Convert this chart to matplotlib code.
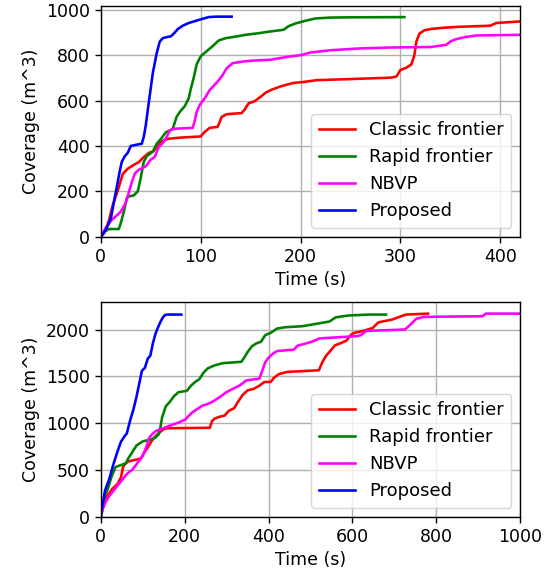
import numpy as np
import matplotlib
matplotlib.use("Agg")
import matplotlib.pyplot as plt

# top run (small map)
t_red1 = [0, 4, 8, 12, 17, 22, 27, 32, 38, 43, 48, 53, 58, 63, 68, 80, 100, 104, 109, 117, 121, 126, 141, 144, 148, 154, 161, 165, 171, 179, 186, 193, 203, 216, 250, 290, 296, 300, 306, 311, 314, 316, 319, 324, 330, 340, 357, 390, 396, 420]
v_red1 = [0, 20, 70, 140, 204, 277, 300, 314, 329, 351, 369, 378, 410, 425, 432, 437, 442, 462, 480, 484, 528, 540, 545, 560, 588, 597, 620, 635, 648, 661, 670, 678, 682, 690, 695, 701, 706, 735, 745, 760, 800, 860, 895, 910, 915, 920, 925, 930, 942, 949]

t_green1 = [0, 3, 8, 18, 20, 23, 26, 28, 33, 37, 40, 43, 46, 52, 56, 60, 65, 72, 76, 80, 84, 88, 90, 93, 96, 100, 106, 112, 118, 125, 135, 145, 158, 170, 183, 188, 195, 205, 215, 230, 250, 304]
v_green1 = [0, 20, 34, 34, 60, 110, 170, 178, 182, 200, 260, 330, 355, 375, 410, 430, 460, 475, 530, 555, 575, 610, 650, 700, 760, 795, 818, 840, 865, 875, 882, 890, 897, 905, 912, 928, 940, 952, 962, 966, 967, 968]

t_mag1 = [0, 5, 10, 15, 20, 25, 28, 31, 34, 38, 45, 50, 54, 58, 63, 66, 69, 74, 92, 94, 96, 99, 104, 109, 116, 121, 126, 132, 142, 151, 170, 190, 200, 210, 230, 260, 290, 330, 346, 350, 355, 365, 376, 420]
v_mag1 = [0, 40, 70, 90, 110, 150, 195, 240, 278, 295, 310, 340, 352, 395, 418, 440, 469, 476, 480, 510, 550, 580, 610, 646, 679, 706, 742, 765, 772, 776, 780, 795, 800, 812, 822, 830, 834, 836, 846, 860, 870, 880, 887, 890]

t_blue1 = [0, 5, 10, 13, 16, 19, 21, 24, 27, 30, 35, 41, 43, 45, 48, 52, 56, 59, 62, 66, 70, 73, 77, 82, 88, 94, 100, 108, 115, 131]
v_blue1 = [0, 30, 80, 150, 220, 290, 330, 355, 370, 400, 405, 410, 440, 490, 590, 720, 810, 860, 875, 880, 883, 895, 915, 930, 942, 950, 958, 968, 970, 970]

# bottom run (large map)
t_red2 = [0, 8, 15, 28, 40, 48, 53, 57, 65, 75, 95, 103, 112, 120, 130, 140, 150, 158, 260, 265, 272, 285, 295, 305, 318, 326, 338, 350, 365, 378, 390, 405, 413, 425, 445, 520, 528, 537, 545, 558, 572, 585, 598, 605, 625, 648, 662, 695, 716, 728, 780]
v_red2 = [0, 150, 220, 300, 350, 420, 530, 560, 590, 600, 620, 680, 740, 800, 860, 900, 935, 945, 950, 1020, 1050, 1070, 1080, 1130, 1160, 1220, 1300, 1350, 1367, 1400, 1439, 1440, 1485, 1525, 1547, 1565, 1650, 1720, 1760, 1830, 1855, 1880, 1950, 1965, 1985, 2016, 2077, 2107, 2142, 2160, 2170]

t_green2 = [0, 5, 10, 17, 25, 35, 50, 60, 65, 75, 85, 100, 120, 130, 138, 142, 146, 155, 165, 175, 185, 205, 215, 225, 235, 245, 255, 270, 290, 335, 342, 350, 360, 370, 382, 392, 405, 420, 440, 480, 525, 545, 560, 590, 640, 680]
v_green2 = [0, 150, 230, 300, 420, 530, 555, 570, 620, 690, 760, 805, 825, 845, 880, 950, 1060, 1180, 1230, 1290, 1330, 1345, 1400, 1440, 1470, 1540, 1585, 1615, 1640, 1655, 1700, 1760, 1820, 1850, 1870, 1940, 1965, 2010, 2025, 2035, 2070, 2085, 2130, 2150, 2160, 2160]

t_mag2 = [0, 5, 12, 20, 28, 36, 44, 52, 60, 68, 75, 85, 95, 100, 108, 115, 122, 131, 143, 163, 185, 202, 210, 218, 230, 242, 255, 267, 283, 299, 315, 331, 347, 378, 385, 392, 400, 410, 420, 460, 470, 480, 505, 521, 612, 620, 632, 725, 738, 752, 770, 910, 918, 1000]
v_mag2 = [0, 90, 160, 220, 265, 310, 356, 400, 446, 480, 500, 560, 620, 650, 740, 840, 880, 915, 935, 970, 1005, 1040, 1080, 1114, 1150, 1186, 1204, 1230, 1276, 1330, 1367, 1402, 1457, 1475, 1560, 1650, 1700, 1740, 1770, 1785, 1830, 1840, 1872, 1905, 1930, 1940, 1985, 2000, 2052, 2114, 2135, 2142, 2170, 2170]

t_blue2 = [0, 5, 10, 20, 30, 40, 48, 55, 62, 70, 78, 85, 92, 98, 105, 112, 118, 124, 130, 136, 142, 148, 153, 158, 192]
v_blue2 = [0, 150, 280, 400, 560, 700, 800, 850, 890, 1030, 1150, 1280, 1430, 1560, 1590, 1690, 1720, 1850, 1950, 2020, 2080, 2130, 2155, 2160, 2160]

labels = ["Classic frontier", "Rapid frontier", "NBVP", "Proposed"]
colors = ["r", "g", "magenta", "b"]

s = 1.25  # everything drawn a bit larger than default
plt.rcParams["font.size"] = 12.5
plt.rcParams["axes.linewidth"] = 0.8 * s
plt.rcParams["grid.linewidth"] = 0.8 * s
plt.rcParams["xtick.major.size"] = 3.5 * s
plt.rcParams["ytick.major.size"] = 3.5 * s
plt.rcParams["xtick.major.width"] = 0.8 * s
plt.rcParams["ytick.major.width"] = 0.8 * s
plt.rcParams["lines.linewidth"] = 1.5 * s

fig = plt.figure(figsize=(5.57, 5.76), dpi=100)
ax1 = fig.add_axes([0.181, 0.589, 0.753, 0.401])
ax2 = fig.add_axes([0.181, 0.103, 0.753, 0.372])

runs1 = [(t_red1, v_red1), (t_green1, v_green1), (t_mag1, v_mag1), (t_blue1, v_blue1)]
runs2 = [(t_red2, v_red2), (t_green2, v_green2), (t_mag2, v_mag2), (t_blue2, v_blue2)]

for (t, v), c, lab in zip(runs1, colors, labels):
    ax1.plot(t, v, color=c, label=lab)
for (t, v), c, lab in zip(runs2, colors, labels):
    ax2.plot(t, v, color=c, label=lab)

ax1.set_xlim(0, 420)
ax1.set_ylim(0, 1018)
ax1.set_xticks([0, 100, 200, 300, 400])
ax1.set_yticks([0, 200, 400, 600, 800, 1000])

ax2.set_xlim(0, 1000)
ax2.set_ylim(0, 2290)
ax2.set_xticks([0, 200, 400, 600, 800, 1000])
ax2.set_yticks([0, 500, 1000, 1500, 2000])

for ax in (ax1, ax2):
    ax.grid(True)
    ax.set_xlabel("Time (s)")
    ax.set_ylabel("Coverage (m^3)")
    ax.legend(loc="lower right", fontsize=13)

fig.savefig("out.png", dpi=100)
